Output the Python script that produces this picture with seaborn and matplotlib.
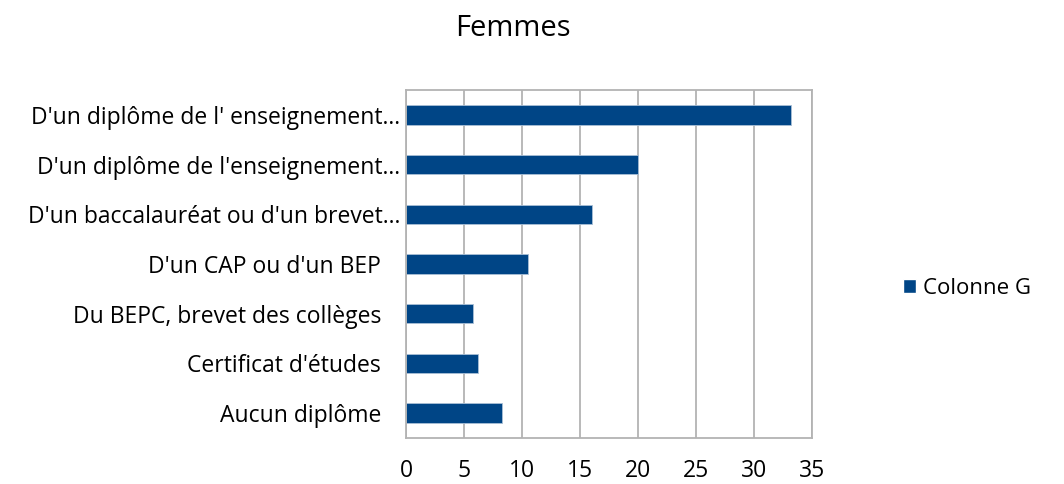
import matplotlib
matplotlib.use("Agg")
import matplotlib.pyplot as plt
import matplotlib.transforms as mtransforms
import seaborn as sns
import pandas as pd
from matplotlib.patches import Patch

categories = [
    "D'un diplôme de l' enseignement…",
    "D'un diplôme de l'enseignement…",
    "D'un baccalauréat ou d'un brevet…",
    "D'un CAP ou d'un BEP",
    "Du BEPC, brevet des collèges",
    "Certificat d'études",
    "Aucun diplôme",
]
values = [33.2, 20.0, 16.0, 10.5, 5.8, 6.2, 8.3]
series_name = "Colonne G"
title = "Femmes"
xticks = [0, 5, 10, 15, 20, 25, 30, 35]

sns.set_theme(style="white")
plt.rcParams['font.family'] = ['Open Sans', 'DejaVu Sans']
plt.rcParams['text.color'] = 'black'

df = pd.DataFrame({"cat": categories, "val": values})

fig = plt.figure(figsize=(10.64, 4.84), dpi=100)
ax = fig.add_axes([406/1064, 46/484, 406/1064, 348/484])
color = "#004586"
sns.barplot(data=df, y="cat", x="val", orient="h", color=color, width=0.39,
            edgecolor="#a9bfd6", linewidth=0.6, ax=ax, saturation=1)
ax.set_xlim(0, 35)
ax.set_xticks(xticks)
ax.set_xticklabels([str(t) for t in xticks])
ax.set_xlabel("")
ax.set_ylabel("")
ax.xaxis.grid(True, color="#b3b3b3", linewidth=1.3)
ax.set_axisbelow(True)
for s in ax.spines.values():
    s.set_color("#b3b3b3")
    s.set_linewidth(1.3)
ax.tick_params(axis="both", length=0, labelsize=16.5, colors="black")
ax.tick_params(axis="y", pad=18)
ax.tick_params(axis="x", pad=15)
# truncated labels (ending with an ellipsis) reach closer to the axis
shift = mtransforms.ScaledTranslation(19/100, 0, fig.dpi_scale_trans)
for lab in ax.get_yticklabels():
    if lab.get_text().endswith("…"):
        lab.set_transform(lab.get_transform() + shift)
fig.text(513/1064, 1 - 29/484, title, ha="center", va="center", fontsize=21)
fig.legend(handles=[Patch(facecolor=color, label=series_name)], loc="center left",
           bbox_to_anchor=(903/1064, 1 - 288/484), frameon=False, fontsize=16,
           handlelength=0.6, handleheight=0.6, handletextpad=0.3, borderaxespad=0,
           borderpad=0)
fig.savefig("out.png", dpi=100)
